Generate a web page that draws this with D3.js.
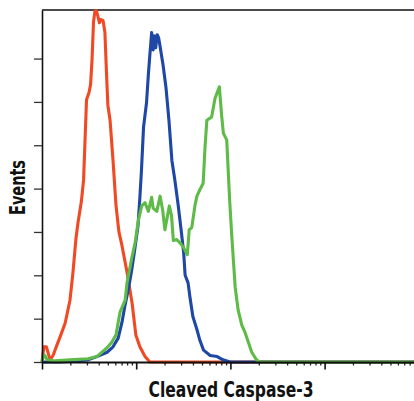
<!DOCTYPE html>
<html>
<head>
<meta charset="utf-8">
<script src="https://cdn.jsdelivr.net/npm/d3@7.9.0/dist/d3.min.js"></script>
<style>
  body { margin: 0; background: #fff; }
  svg { display: block; }
  .label { font-family: "Liberation Sans Narrow", "DejaVu Sans Condensed", "Arial Narrow", sans-serif; font-weight: bold; fill: #111; }
</style>
</head>
<body>
<svg width="414" height="401"></svg>
<script>
// histogram data: log channel (256 per decade, 1024 = 4 decades) and event counts
const redChannels   = [0, 5, 12, 22, 30, 41, 49, 63, 76, 84, 92, 98, 107, 113, 117, 121, 128, 132, 136, 140, 144, 148, 152, 156, 160, 166, 171, 175, 179, 185, 193, 201, 209, 217, 231, 245, 255, 266, 280, 293, 1023];
const redCounts     = [0, 14, 14, 2, 6, 16, 23, 36, 57, 82, 113, 129, 148, 168, 205, 242, 249, 256, 279, 314, 324, 324, 319, 313, 316, 315, 304, 269, 237, 223, 186, 145, 120, 108, 83, 54, 25, 14, 5, 0, 0];

const blueChannels  = [0, 49, 90, 125, 149, 177, 193, 207, 217, 226, 234, 243, 253, 261, 266, 270, 273, 276, 284, 289, 293, 298, 302, 305, 309, 313, 317, 321, 329, 337, 345, 353, 361, 370, 378, 385, 389, 397, 402, 410, 421, 429, 439, 457, 476, 492, 511, 1023];
const blueCounts    = [0, 0, 1, 2, 5, 9, 14, 22, 36, 53, 66, 83, 106, 126, 152, 175, 196, 217, 239, 265, 283, 304, 288, 301, 290, 302, 299, 291, 274, 253, 223, 186, 168, 145, 122, 101, 80, 73, 60, 42, 30, 20, 11, 6, 5, 2, 0, 0];

const greenChannels = [0, 4, 8, 14, 35, 76, 125, 149, 176, 189, 201, 212, 226, 231, 244, 253, 262, 271, 280, 289, 298, 302, 312, 321, 328, 334, 339, 346, 352, 357, 366, 375, 384, 395, 400, 407, 416, 421, 429, 438, 443, 448, 461, 470, 482, 488, 493, 502, 506, 510, 516, 525, 533, 543, 552, 561, 570, 583, 592, 1023];
const greenCounts   = [0, 6, 6, 2, 1, 2, 3, 5, 13, 18, 25, 46, 57, 73, 96, 110, 131, 144, 147, 139, 152, 142, 139, 153, 140, 122, 131, 144, 135, 112, 113, 110, 106, 99, 122, 124, 145, 153, 159, 165, 198, 223, 226, 243, 254, 228, 211, 205, 177, 149, 115, 69, 48, 34, 27, 18, 9, 2, 0, 0];

const yTickValues = [0, 40, 80, 120, 160, 200, 240, 280];
const xMajorTicks = [1, 10, 100, 1000, 10000];

const svg = d3.select("svg");

let x = d3.scaleLog().domain([1, 10000]).range([42, 418.8]);
let y = d3.scaleLinear().domain([0, 324.8]).range([362, 10]);

// minor log ticks 2..9 in each decade
let xMinorTicks = [];
for (let d = 1; d < 10000; d *= 10) {
    for (let k = 2; k <= 9; k++) xMinorTicks.push(k * d);
}

// top frame line
svg.append("line")
    .attr("x1", x(1)).attr("x2", 414)
    .attr("y1", y(324.8)).attr("y2", y(324.8))
    .attr("stroke", "#111").attr("stroke-width", 1.6);

// histograms (red, then blue, then green on top)
let series = [
    { ch: redChannels, n: redCounts, color: "#ef4a24" },
    { ch: blueChannels, n: blueCounts, color: "#1f47a6" },
    { ch: greenChannels, n: greenCounts, color: "#5fbb47" }
];

let line = d3.line()
    .x(d => x(Math.pow(10, d[0] / 256)))
    .y(d => y(d[1]));

svg.append("g")
    .selectAll("path")
    .data(series)
    .enter()
    .append("path")
    .attr("d", s => line(s.ch.map((c, i) => [c, s.n[i]])))
    .attr("fill", "none")
    .attr("stroke", s => s.color)
    .attr("stroke-width", 3.1)
    .attr("stroke-linejoin", "round");

// x axis: minor then major ticks
let xMinor = svg.append("g")
    .attr("transform", `translate(0,${y(0)})`)
    .call(d3.axisBottom(x).tickValues(xMinorTicks).tickSize(3.5).tickSizeOuter(0).tickFormat(""));
xMinor.select(".domain").remove();
xMinor.selectAll(".tick line").attr("stroke", "#222").attr("stroke-width", 1.3);

let xMajor = svg.append("g")
    .attr("transform", `translate(0,${y(0)})`)
    .call(d3.axisBottom(x).tickValues(xMajorTicks).tickSize(7.5).tickSizeOuter(0).tickFormat(""));
xMajor.select(".domain").attr("stroke", "#111").attr("stroke-width", 2);
xMajor.selectAll(".tick line").attr("stroke", "#111").attr("stroke-width", 1.6);

// y axis
let yAxis = svg.append("g")
    .attr("transform", `translate(${x(1)},0)`)
    .call(d3.axisLeft(y).tickValues(yTickValues).tickSize(8).tickSizeOuter(0).tickFormat(""));
yAxis.select(".domain").attr("stroke", "#111").attr("stroke-width", 1.6);
yAxis.selectAll(".tick line").attr("stroke", "#333").attr("stroke-width", 1.3);

// axis titles
svg.append("text")
    .attr("class", "label")
    .attr("x", 231).attr("y", 396.5)
    .attr("text-anchor", "middle")
    .attr("font-size", 20.5)
    .attr("textLength", 165).attr("lengthAdjust", "spacingAndGlyphs")
    .text("Cleaved Caspase-3");

svg.append("text")
    .attr("class", "label")
    .attr("transform", "translate(25,187.5) rotate(-90)")
    .attr("text-anchor", "middle")
    .attr("font-size", 20.5)
    .attr("textLength", 55).attr("lengthAdjust", "spacingAndGlyphs")
    .text("Events");
</script>
</body>
</html>
